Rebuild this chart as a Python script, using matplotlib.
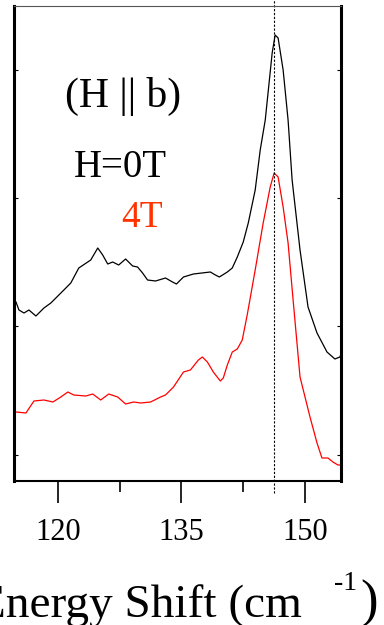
import matplotlib
matplotlib.use('Agg')
import matplotlib.pyplot as plt

plt.rcParams['font.family'] = ['Liberation Serif', 'DejaVu Serif']

# H = 0T spectrum (energy shift in cm^-1, intensity in arb. units)
x_0T = [114.92, 115.28, 115.89, 116.49, 117.34, 118.31, 119.15, 120.73, 121.57, 122.54,
        123.99, 124.84, 125.44, 126.05, 126.65, 127.38, 128.22, 129.07, 129.67, 130.28,
        130.88, 131.85, 133.06, 133.91, 134.39, 135.24, 136.45, 138.50, 139.11, 139.59,
        140.56, 141.16, 141.77, 142.49, 143.10, 143.94, 144.55, 145.16, 146.00, 146.36,
        146.72, 147.33, 147.93, 148.42, 149.38, 150.35, 151.44, 152.65, 153.61, 154.22,
        154.35]
y_0T = [1.79, 1.71, 1.68, 1.71, 1.65, 1.73, 1.78, 1.91, 1.98, 2.13,
        2.21, 2.33, 2.26, 2.17, 2.19, 2.16, 2.22, 2.15, 2.14, 2.08,
        2.01, 2.00, 2.03, 1.99, 1.97, 2.04, 2.07, 2.09, 2.06, 2.04,
        2.09, 2.13, 2.24, 2.39, 2.58, 2.91, 3.31, 3.61, 4.28, 4.46,
        4.43, 4.11, 3.61, 3.01, 2.31, 1.74, 1.48, 1.29, 1.22, 1.24,
        1.27]

# H = 4T spectrum
x_4T = [114.92, 116.13, 117.10, 118.31, 119.40, 120.36, 121.21, 121.93, 123.39, 124.23,
        125.20, 126.17, 127.26, 128.22, 129.19, 130.04, 131.25, 132.46, 133.06, 134.03,
        135.24, 136.08, 137.05, 137.53, 138.14, 138.86, 139.71, 140.07, 140.56, 141.16,
        141.77, 142.37, 142.97, 143.94, 144.91, 145.76, 146.24, 146.72, 147.33, 147.93,
        148.54, 149.38, 150.59, 151.44, 152.04, 152.77, 153.37, 153.98, 154.35]
y_4T = [0.69, 0.68, 0.80, 0.81, 0.79, 0.84, 0.89, 0.86, 0.85, 0.87,
        0.81, 0.87, 0.84, 0.77, 0.79, 0.78, 0.79, 0.84, 0.86, 0.94,
        1.09, 1.11, 1.21, 1.24, 1.19, 1.09, 1.00, 1.03, 1.16, 1.29,
        1.32, 1.41, 1.66, 2.11, 2.58, 2.94, 3.08, 3.04, 2.74, 2.38,
        1.81, 1.04, 0.64, 0.38, 0.23, 0.23, 0.19, 0.16, 0.16]

peak_pos = 146.25
x_major = [120, 135, 150]
x_minor = [127.5, 142.5]
y_ticks = [0.26, 1.55, 2.83, 4.11]

fig = plt.figure(figsize=(3.84, 6.25), dpi=100)
ax = fig.add_axes([14 / 384, 144 / 625, 327 / 384, 475 / 625])

ax.plot(x_0T, y_0T, color='black', lw=0.9, solid_joinstyle='round')
ax.plot(x_4T, y_4T, color='#ff0000', lw=0.9, solid_joinstyle='round')
ax.plot([peak_pos, peak_pos], [-0.12, 4.81], color='black', lw=0.8,
        ls=(0, (2, 1.5)), clip_on=False)

ax.set_xlim(114.68, 154.35)
ax.set_ylim(0, 4.75)

ax.set_xticks(x_major)
ax.set_xticks(x_minor, minor=True)
ax.set_yticks(y_ticks)
ax.tick_params(axis='x', which='major', direction='out', length=16, width=1.2,
               labelsize=22, pad=11)
ax.tick_params(axis='x', which='minor', direction='out', length=8, width=1.2)
ax.tick_params(axis='y', direction='in', length=3, width=0.8,
               left=True, right=True, labelleft=False)

ax.spines['left'].set_linewidth(2.2)
ax.spines['right'].set_linewidth(2.2)
ax.spines['bottom'].set_linewidth(1.5)
ax.spines['top'].set_linewidth(0.8)
ax.spines['top'].set_color('#555555')

fig.text(123 / 384, 1 - 107 / 625, '(H || b)', fontsize=30, ha='center', va='baseline')
fig.text(120 / 384, 1 - 177 / 625, 'H=0T', fontsize=28, ha='center', va='baseline')
fig.text(142 / 384, 1 - 227 / 625, '4T', fontsize=27, ha='center', va='baseline',
         color='#ff3300')

fig.text(302 / 384, 1 - 617 / 625, 'Energy Shift (cm', fontsize=34, ha='right',
         va='baseline')
fig.text(346 / 384, 1 - 590 / 625, '-1', fontsize=20, ha='center', va='baseline')
fig.text(360 / 384, 1 - 617 / 625, ')', fontsize=38, ha='left', va='baseline')

fig.savefig('out.png', dpi=100)
